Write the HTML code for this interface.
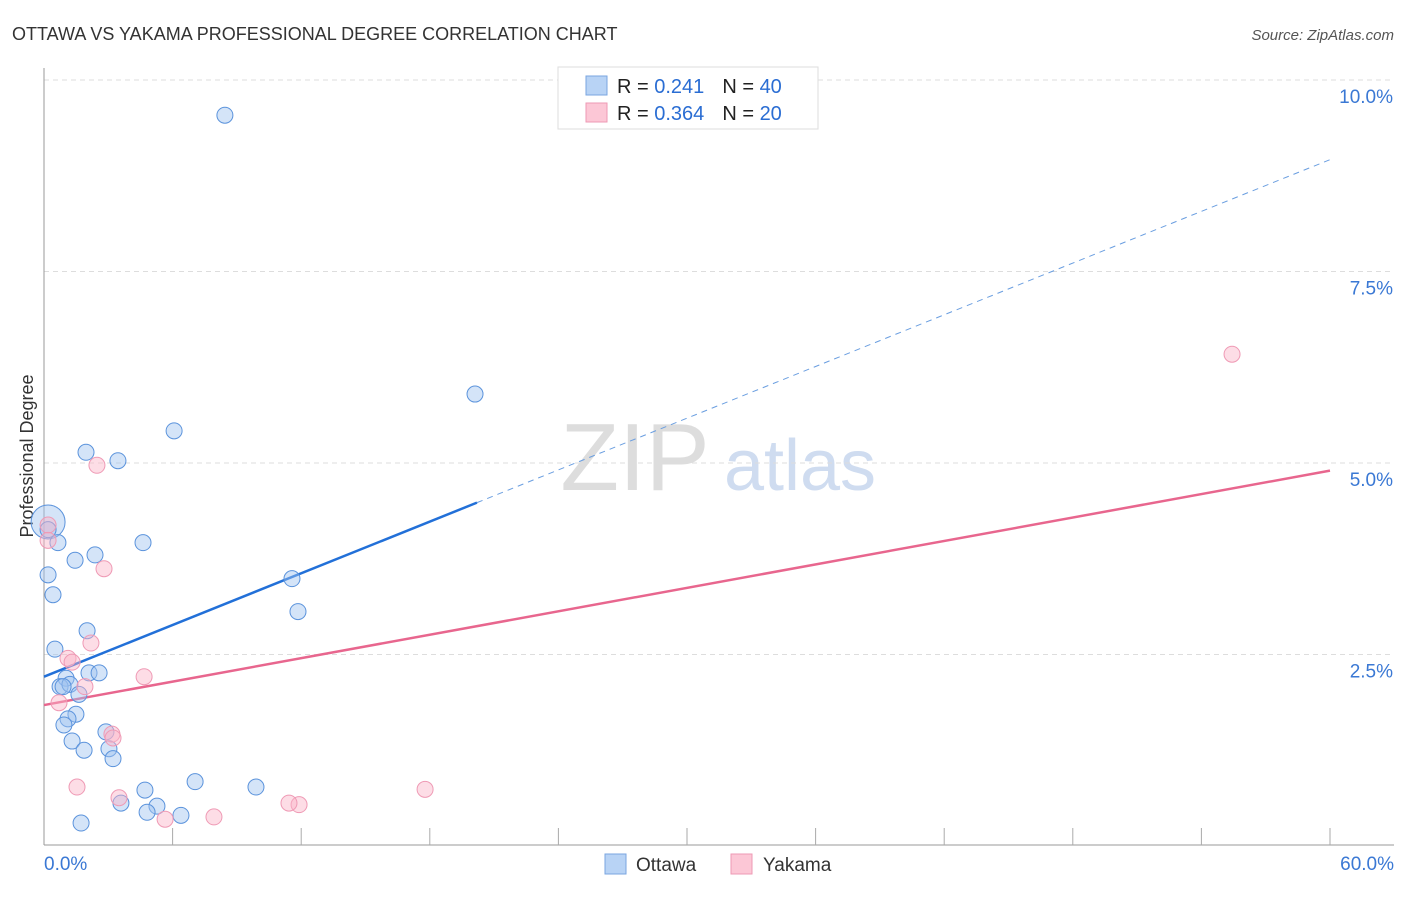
<!DOCTYPE html>
<html><head><meta charset="utf-8"><style>
body{margin:0;background:#fff;font-family:"Liberation Sans",sans-serif;}
svg text{font-family:"Liberation Sans",sans-serif;}
</style></head><body>
<svg id="chart" width="1406" height="892" viewBox="0 0 1406 892">
<text x="12" y="40" font-size="18" fill="#333">OTTAWA VS YAKAMA PROFESSIONAL DEGREE CORRELATION CHART</text>
<text x="1394" y="40" font-size="15" fill="#555" font-style="italic" text-anchor="end">Source: ZipAtlas.com</text>
<text transform="translate(33,456) rotate(-90)" font-size="18" fill="#333" text-anchor="middle">Professional Degree</text>
<g>
<text x="635" y="490" font-size="96" fill="#ddd" font-family="Liberation Serif" text-anchor="middle">ZIP</text>
<text x="800" y="490" font-size="72" fill="#cfdcf0" text-anchor="middle">atlas</text>
</g>
<g id="grid"></g><g id="axes"></g><g id="trend"></g><g id="pts"></g>
<g>
<rect x="558" y="67" width="260" height="62" fill="#fff" stroke="#ddd"/>
<rect x="586" y="76" width="21" height="19" fill="#b8d3f5" stroke="#7aa6e0"/>
<rect x="586" y="103" width="21" height="19" fill="#fcc7d6" stroke="#ee9ab4"/>
<text x="617" y="93" font-size="20" fill="#222">R = <tspan fill="#2a6dd3"> 0.241</tspan><tspan dx="18">N = </tspan><tspan fill="#2a6dd3">40</tspan></text>
<text x="617" y="120" font-size="20" fill="#222">R = <tspan fill="#2a6dd3">0.364</tspan><tspan dx="18">N = </tspan><tspan fill="#2a6dd3">20</tspan></text>
</g>
<g>
<rect x="605" y="854" width="21" height="20" fill="#b8d3f5" stroke="#7aa6e0"/>
<text x="636" y="871" font-size="19" fill="#333">Ottawa</text>
<rect x="731" y="854" width="21" height="20" fill="#fcc7d6" stroke="#ee9ab4"/>
<text x="763" y="871" font-size="19" fill="#333">Yakama</text>
</g>
</svg>
<script>
const xTickLabels=["0.0%","60.0%"];
const yTicks=[2.5,5.0,7.5,10.0];
const yTickLabels=["2.5%","5.0%","7.5%","10.0%"];
const ottawaX=[8.44,20.11,6.07,1.96,3.45,0.19,0.65,4.62,2.38,1.45,0.19,0.42,11.57,11.85,2.01,0.51,2.10,2.57,1.03,0.75,1.21,1.63,1.49,1.12,0.93,1.31,1.87,2.89,3.03,3.22,4.71,7.05,9.89,5.27,3.59,4.81,6.39,1.73,0.19,0.89];
const ottawaY=[9.54,5.90,5.42,5.14,5.03,4.23,3.96,3.96,3.80,3.73,3.54,3.28,3.49,3.06,2.81,2.57,2.26,2.26,2.19,2.08,2.11,1.98,1.72,1.66,1.58,1.37,1.25,1.49,1.27,1.14,0.73,0.84,0.77,0.52,0.56,0.44,0.40,0.30,4.13,2.08];
const yakamaX=[55.43,2.47,2.80,2.19,1.12,1.31,4.67,1.91,0.70,3.17,3.22,1.54,3.50,11.90,11.43,17.78,5.65,7.93,0.19,0.19];
const yakamaY=[6.42,4.97,3.62,2.65,2.45,2.40,2.21,2.08,1.87,1.46,1.41,0.77,0.63,0.54,0.56,0.74,0.35,0.38,4.19,3.99];
const ottawaTrend=[2.21,8.96]; // y at x=0 and x=60
const yakamaTrend=[1.84,4.90];
const ottawaSolidEnd=20.2;

const X0=44,X1=1330,YB=846,PXPER=76.6;
const sx=v=>X0+v/60*(X1-X0);
const sy=v=>YB-v*PXPER;
const NS="http://www.w3.org/2000/svg";
function mk(tag,attrs,parent){const e=document.createElementNS(NS,tag);for(const k in attrs)e.setAttribute(k,attrs[k]);parent.appendChild(e);return e;}
const grid=document.getElementById('grid'),axes=document.getElementById('axes'),trend=document.getElementById('trend'),pts=document.getElementById('pts');
yTicks.forEach((t,i)=>{
  const l=mk('line',{x1:X0,x2:1394,y1:sy(t),y2:sy(t),stroke:'#ddd','stroke-dasharray':'5,4'},grid);
  
  
  const tx=mk('text',{x:1393,y:sy(t)+23,'font-size':19,fill:'#3a78d4','text-anchor':'end'},grid);
  tx.textContent=yTickLabels[i];
  
  
});
const ya=mk('line',{x1:X0,x2:X0,y1:68,y2:845,stroke:'#999'},axes);


const xa=mk('line',{x1:X0,x2:1394,y1:845,y2:845,stroke:'#999'},axes);


for(let i=1;i<=10;i++){
  const t=mk('line',{x1:sx(i*6),x2:sx(i*6),y1:828,y2:845,stroke:'#aaa'},axes);
  
  
}
[[0,'start',44],[60,'end',1394]].forEach((d,i)=>{
  const t=mk('text',{x:d[2],y:870,'font-size':19,fill:'#3a78d4','text-anchor':d[1]},axes);
  t.textContent=xTickLabels[i];
  
  
});
const oy=x=>ottawaTrend[0]+(ottawaTrend[1]-ottawaTrend[0])*x/60;
const yy=x=>yakamaTrend[0]+(yakamaTrend[1]-yakamaTrend[0])*x/60;
const t1=mk('line',{x1:sx(0),y1:sy(oy(0)),x2:sx(ottawaSolidEnd),y2:sy(oy(ottawaSolidEnd)),stroke:'#2270d8','stroke-width':2.5},trend);


const t2=mk('line',{x1:sx(ottawaSolidEnd),y1:sy(oy(ottawaSolidEnd)),x2:sx(60),y2:sy(oy(60)),stroke:'#6a9ee0','stroke-width':1,'stroke-dasharray':'6,5'},trend);


const t3=mk('line',{x1:sx(0),y1:sy(yy(0)),x2:sx(60),y2:sy(yy(60)),stroke:'#e8668e','stroke-width':2.5},trend);


ottawaX.forEach((x,i)=>{
  const c=mk('circle',{cx:sx(x),cy:sy(ottawaY[i]),r:i===5?17:8,fill:'rgba(160,196,240,0.45)',stroke:'#5b93dc','stroke-width':1},pts);
  
  
});
yakamaX.forEach((x,i)=>{
  const c=mk('circle',{cx:sx(x),cy:sy(yakamaY[i]),r:8,fill:'rgba(250,180,200,0.45)',stroke:'#ef9ab5','stroke-width':1},pts);
  
  
});
</script>
</body></html>
